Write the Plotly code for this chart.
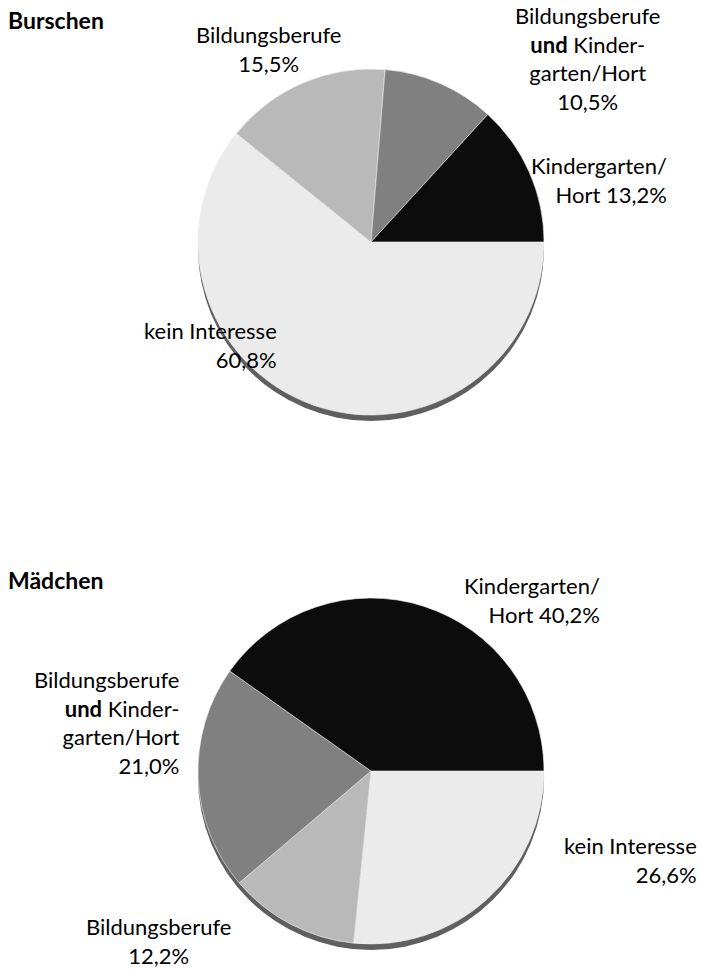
import plotly.graph_objects as go

categories = ["Kindergarten/Hort", "Bildungsberufe und Kindergarten/Hort", "Bildungsberufe", "kein Interesse"]
burschen_values = [13.2, 10.5, 15.5, 60.8]
maedchen_values = [40.2, 21.0, 12.2, 26.6]
colors = ["#0c0c0c", "#808080", "#b9b9b9", "#ebebeb"]

W, H = 701, 970
FONT = "Lato"
FS = 22
R = 173

def dom(cx, cy, r, dy=0):
    return dict(x=[(cx - r) / W, (cx + r) / W], y=[1 - (cy + r + dy) / H, 1 - (cy - r + dy) / H])

fig = go.Figure()
for vals, cy in [(burschen_values, 242), (maedchen_values, 771)]:
    # shadow underneath
    fig.add_trace(go.Pie(values=[1], marker=dict(colors=["#5f5f5f"], line=dict(width=0)),
                         domain=dom(371, cy, R, dy=6), textinfo="none", hoverinfo="skip",
                         showlegend=False, sort=False))
    # clockwise from 3 o'clock with reversed order == counterclockwise in original order
    fig.add_trace(go.Pie(labels=categories[::-1], values=vals[::-1], sort=False, direction="clockwise",
                         rotation=90, marker=dict(colors=colors[::-1], line=dict(color="#f2f2f2", width=0.6)),
                         domain=dom(371, cy, R), textinfo="none", showlegend=False))

def ann(text, x, y, align="center", xanchor="center", size=FS):
    fig.add_annotation(text=text, x=x / W, y=1 - y / H, xref="paper", yref="paper",
                       showarrow=False, align=align, xanchor=xanchor, yanchor="top",
                       font=dict(family=FONT, size=size, color="#000000"))

# Titles
ann("<b>Burschen</b>", 6, 4, align="left", xanchor="left", size=23)
ann("<b>Mädchen</b>", 6, 564, align="left", xanchor="left", size=23)

# Burschen labels
ann("Bildungsberufe<br>15,5%", 268, 19)
ann("Bildungsberufe<br><b>und</b> Kinder-<br>garten/Hort<br>10,5%", 587, 0)
ann("Kindergarten/<br>Hort 13,2%", 669, 150, align="right", xanchor="right")
ann("kein Interesse<br>60,8%", 279, 315, align="right", xanchor="right")

# Mädchen labels
ann("Kindergarten/<br>Hort 40,2%", 602, 570, align="right", xanchor="right")
ann("Bildungsberufe<br><b>und</b> Kinder-<br>garten/Hort<br>21,0%", 182, 664, align="right", xanchor="right")
ann("kein Interesse<br>26,6%", 699, 830, align="right", xanchor="right")
ann("Bildungsberufe<br>12,2%", 158, 911)

fig.update_layout(width=W, height=H, margin=dict(l=0, r=0, t=0, b=0),
                  paper_bgcolor="white", plot_bgcolor="white")
fig.write_html("out.html", config={"displayModeBar": False},
               post_script="document.body.style.margin='0';")
